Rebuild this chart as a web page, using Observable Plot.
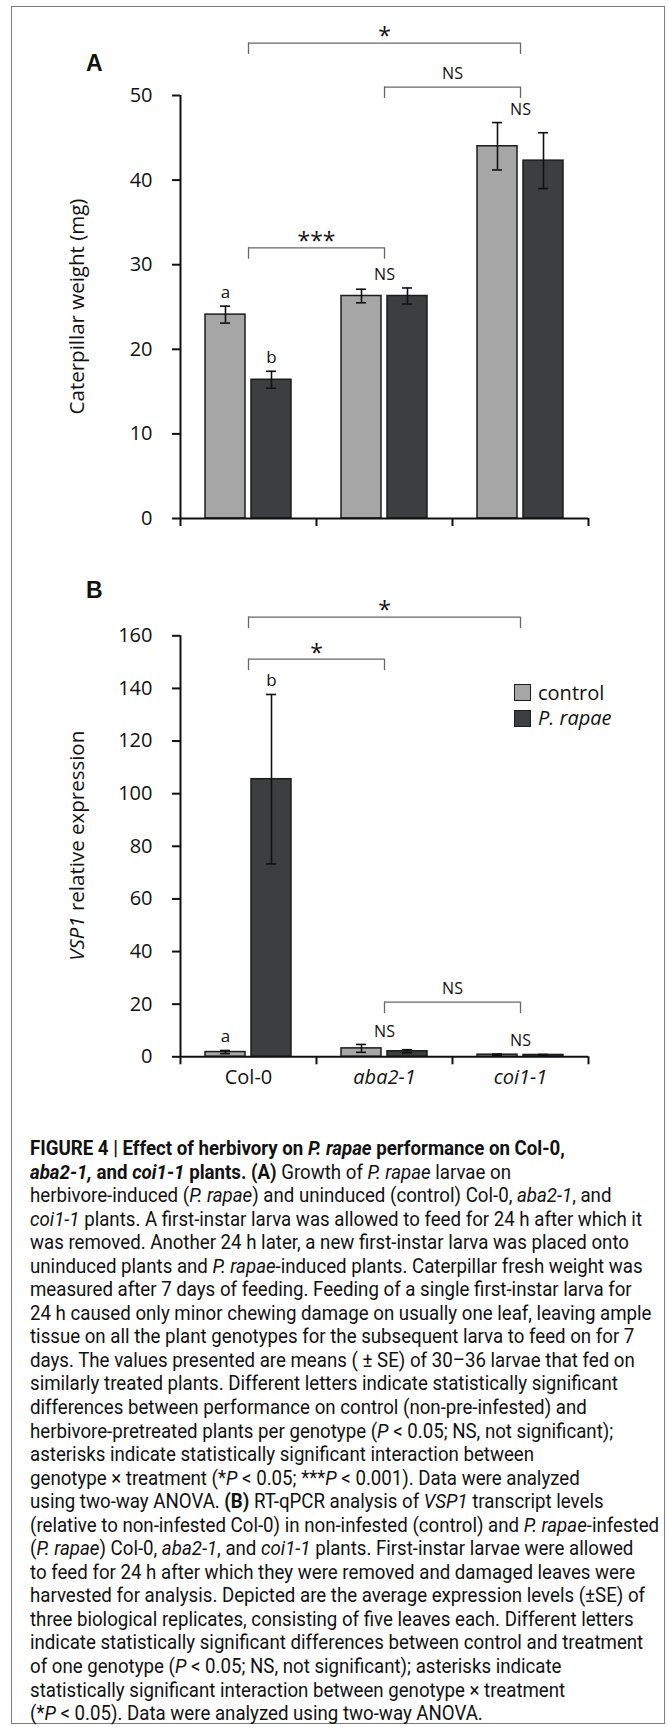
<!DOCTYPE html>
<html><head><meta charset="utf-8">
<script src="https://cdn.jsdelivr.net/npm/d3@7"></script>
<script src="https://cdn.jsdelivr.net/npm/@observablehq/plot@0.6"></script>
<style>
html,body{margin:0;padding:0;background:#fff;}
#page{position:relative;width:668px;height:1727px;overflow:hidden;font-family:"Open Sans",sans-serif;color:#111;}
#frame{position:absolute;left:11px;top:6px;width:652px;height:1716px;border:1.5px solid #7d7d7d;}
.layer{position:absolute;left:0;}
.plabel{position:absolute;font-family:"Liberation Sans",Arial,sans-serif;font-weight:bold;font-size:23px;line-height:23px;}
.leg{position:absolute;font-family:"Open Sans",sans-serif;font-size:20px;line-height:20px;}
.sw{position:absolute;width:15px;height:15px;border:1.3px solid #1c1c1c;}
#caption{position:absolute;left:30px;top:1137px;font-family:"Liberation Sans Narrow","Arial Narrow","Roboto",sans-serif;font-size:20px;color:#111;}
#caption div{white-space:pre;line-height:23.55px;height:23.55px;transform-origin:0 50%;}
</style></head>
<body><div id="page"><div id="frame"></div></div>
<script>
// ---------- data ----------
const genotypes = ["Col-0", "aba2-1", "coi1-1"];
const italicGenotypes = ["aba2-1", "coi1-1"];
const treatments = ["control", "P. rapae"];

// Panel A: caterpillar weight (mg), mean and SE
const weightControl   = [24.1, 26.3, 44.0];
const weightControlSE = [1.0, 0.8, 2.8];
const weightRapae     = [16.4, 26.3, 42.3];
const weightRapaeSE   = [1.0, 0.95, 3.3];
const weightTicks = [0, 10, 20, 30, 40, 50];
const weightBarLetters = [
  {genotype: "Col-0", treatment: "control", text: "a"},
  {genotype: "Col-0", treatment: "P. rapae", text: "b"}
];
const weightGroupLetters = [
  {genotype: "aba2-1", text: "NS"},
  {genotype: "coi1-1", text: "NS"}
];
const weightBrackets = [
  {from: "Col-0", to: "coi1-1", level: 56.2, text: "*"},
  {from: "aba2-1", to: "coi1-1", level: 51.0, text: "NS"},
  {from: "Col-0", to: "aba2-1", level: 32.0, text: "***"}
];

// Panel B: VSP1 relative expression, mean and SE
const vspControl   = [1.8, 3.2, 0.8];
const vspControlSE = [0.6, 1.5, 0.25];
const vspRapae     = [105.5, 2.1, 0.7];
const vspRapaeSE   = [32.2, 0.6, 0.2];
const vspTicks = [0, 20, 40, 60, 80, 100, 120, 140, 160];
const vspBarLetters = [
  {genotype: "Col-0", treatment: "control", text: "a"},
  {genotype: "Col-0", treatment: "P. rapae", text: "b"}
];
const vspGroupLetters = [
  {genotype: "aba2-1", text: "NS"},
  {genotype: "coi1-1", text: "NS"}
];
const vspBrackets = [
  {from: "Col-0", to: "coi1-1", level: 167.1, text: "*"},
  {from: "Col-0", to: "aba2-1", level: 151.1, text: "*"},
  {from: "aba2-1", to: "coi1-1", level: 20.8, text: "NS"}
];

const fillColors = ["#a6a6a6", "#3c3f3f"];

// ---------- helpers ----------
function buildRows(c, cse, r, rse) {
  return genotypes.flatMap((g, i) => [
    {genotype: g, treatment: treatments[0], value: c[i], se: cse[i]},
    {genotype: g, treatment: treatments[1], value: r[i], se: rse[i]}
  ]);
}
const gi = g => genotypes.indexOf(g);
const FONT = '"Open Sans", sans-serif';

function panel(cfg) {
  const {rows, barLetters, groupLetters, brackets, yDomain, yTicks, top, height, marginTop, marginBottom, yLabel, xLabels} = cfg;
  const common = {
    width: 668, height, marginLeft: 180, marginRight: 80, marginTop, marginBottom,
    style: {fontFamily: FONT, fontSize: "20px", background: "transparent", color: "#111", overflow: "visible"}
  };
  const topOf = (g, t) => { const r = rows.find(d => d.genotype === g && d.treatment === t); return r.value + r.se; };
  const barLetterRows = barLetters.map(d => ({...d, y: topOf(d.genotype, d.treatment)}));
  const groupRows = groupLetters.map(d => ({...d, y: Math.max(...treatments.map(t => topOf(d.genotype, t)))}));

  const bars = Plot.plot({
    ...common,
    fx: {domain: genotypes, padding: 0, axis: null},
    x: {domain: treatments, paddingInner: 0.13, paddingOuter: 0.543, axis: null},
    y: {domain: yDomain, axis: null},
    color: {domain: treatments, range: fillColors},
    marks: [
      Plot.barY(rows, {fx: "genotype", x: "treatment", y: "value", fill: "treatment", stroke: "#1c1c1c", strokeWidth: 1.5}),
      Plot.ruleX(rows, {fx: "genotype", x: "treatment", y1: d => d.value - d.se, y2: d => d.value + d.se, stroke: "#111", strokeWidth: 1.6}),
      Plot.tickY(rows, {fx: "genotype", x: "treatment", y: d => d.value + d.se, insetLeft: 15, insetRight: 15, stroke: "#111", strokeWidth: 1.6}),
      Plot.tickY(rows, {fx: "genotype", x: "treatment", y: d => d.value - d.se, insetLeft: 15, insetRight: 15, stroke: "#111", strokeWidth: 1.6}),
      Plot.text(barLetterRows, {fx: "genotype", x: "treatment", y: "y", text: "text", dy: -14, fontSize: 17, fill: "#111"})
    ]
  });

  const n = genotypes.length;
  const bracketEnds = brackets.flatMap(d => [{x: gi(d.from) + 0.5, y: d.level}, {x: gi(d.to) + 0.5, y: d.level}]);
  const xMarks = xLabels ? [
    Plot.text(genotypes.filter(g => !italicGenotypes.includes(g)), {x: g => gi(g) + 0.5, y: yDomain[0], text: d => d, dy: 21, fontSize: 20, fill: "#111"}),
    Plot.text(genotypes.filter(g => italicGenotypes.includes(g)), {x: g => gi(g) + 0.5, y: yDomain[0], text: d => d, dy: 21, fontSize: 20, fontStyle: "italic", fill: "#111"})
  ] : [];
  const over = Plot.plot({
    ...common,
    x: {domain: [0, n], axis: null},
    y: {domain: yDomain, axis: null},
    marks: [
      Plot.ruleY([yDomain[0]], {x1: 0, x2: n, stroke: "#111", strokeWidth: 2}),
      Plot.ruleX([0], {y1: yDomain[0], y2: yDomain[1], stroke: "#111", strokeWidth: 2}),
      Plot.axisY({ticks: yTicks, tickSize: 8, tickPadding: 20, strokeWidth: 2, fontSize: 20, label: null, tickFormat: d3.format("d"), fill: "#111"}),
      Plot.axisX({ticks: d3.range(n + 1), tickSize: 8, tickFormat: () => "", strokeWidth: 2, label: null}),
      Plot.ruleY(brackets, {x1: d => gi(d.from) + 0.5, x2: d => gi(d.to) + 0.5, y: "level", stroke: "#666", strokeWidth: 1.3}),
      Plot.ruleX(bracketEnds, {x: "x", y1: "y", y2: "y", insetBottom: -11.5, stroke: "#666", strokeWidth: 1.3}),
      Plot.text(brackets.filter(d => d.text.startsWith("*")), {x: d => (gi(d.from) + gi(d.to)) / 2 + 0.5, y: "level", text: "text", dy: -6, fontSize: 23, fill: "#111"}),
      Plot.text(brackets.filter(d => !d.text.startsWith("*")), {x: d => (gi(d.from) + gi(d.to)) / 2 + 0.5, y: "level", text: "text", dy: -13, fontSize: 16, fill: "#111"}),
      Plot.text(groupRows, {x: d => gi(d.genotype) + 0.5, y: "y", text: "text", dy: -13, fontSize: 16, fill: "#111"}),
      ...xMarks
    ]
  });

  // y axis title (mixed styles)
  const ys = over.scale("y");
  const yc = ys.apply((yDomain[0] + yDomain[1]) / 2);
  const t = d3.select(over).append("text")
    .attr("transform", `translate(76,${yc}) rotate(-90)`)
    .attr("text-anchor", "middle").attr("dominant-baseline", "central")
    .attr("font-family", FONT).attr("font-size", 20.5).attr("fill", "#111");
  yLabel.forEach(part => t.append("tspan").attr("font-style", part.italic ? "italic" : null).text(part.text));

  for (const el of [bars, over]) {
    el.classList.add("layer");
    el.style.top = top + "px";
    document.getElementById("page").appendChild(el);
  }
}

panel({
  rows: buildRows(weightControl, weightControlSE, weightRapae, weightRapaeSE),
  barLetters: weightBarLetters, groupLetters: weightGroupLetters, brackets: weightBrackets,
  yDomain: [0, 50], yTicks: weightTicks, top: 0, height: 560, marginTop: 95, marginBottom: 42,
  yLabel: [{text: "Caterpillar weight (mg)"}], xLabels: false
});
panel({
  rows: buildRows(vspControl, vspControlSE, vspRapae, vspRapaeSE),
  barLetters: vspBarLetters, groupLetters: vspGroupLetters, brackets: vspBrackets,
  yDomain: [0, 160], yTicks: vspTicks, top: 560, height: 540, marginTop: 75.3, marginBottom: 43.7,
  yLabel: [{text: "VSP1", italic: true}, {text: " relative expression"}], xLabels: true
});

// panel letters + legend
const page = document.getElementById("page");
function addDiv(cls, html, left, top, extra) {
  const d = document.createElement("div"); d.className = cls; d.innerHTML = html;
  d.style.left = left + "px"; d.style.top = top + "px";
  if (extra) Object.assign(d.style, extra);
  page.appendChild(d); return d;
}
addDiv("plabel", "A", 86, 52);
addDiv("plabel", "B", 86, 579);
treatments.forEach((tr, i) => {
  const top = 684 + i * 25.5;
  addDiv("sw", "", 514, top, {background: fillColors[i]});
  addDiv("leg", tr === "control" ? tr : "<i>" + tr + "</i>", 538, top - 1.5);
});

// caption
const captionLines = [
  "<b>FIGURE 4 | Effect of herbivory on <i>P. rapae</i> performance on Col-0,</b>",
  "<b><i>aba2-1,</i> and <i>coi1-1</i> plants. (A)</b> Growth of <i>P. rapae</i> larvae on",
  "herbivore-induced (<i>P. rapae</i>) and uninduced (control) Col-0, <i>aba2-1</i>, and",
  "<i>coi1-1</i> plants. A first-instar larva was allowed to feed for 24 h after which it",
  "was removed. Another 24 h later, a new first-instar larva was placed onto",
  "uninduced plants and <i>P. rapae</i>-induced plants. Caterpillar fresh weight was",
  "measured after 7 days of feeding. Feeding of a single first-instar larva for",
  "24 h caused only minor chewing damage on usually one leaf, leaving ample",
  "tissue on all the plant genotypes for the subsequent larva to feed on for 7",
  "days. The values presented are means ( ± SE) of 30–36 larvae that fed on",
  "similarly treated plants. Different letters indicate statistically significant",
  "differences between performance on control (non-pre-infested) and",
  "herbivore-pretreated plants per genotype (<i>P</i> &lt; 0.05; NS, not significant);",
  "asterisks indicate statistically significant interaction between",
  "genotype × treatment (*<i>P</i> &lt; 0.05; ***<i>P</i> &lt; 0.001). Data were analyzed",
  "using two-way ANOVA. <b>(B)</b> RT-qPCR analysis of <i>VSP1</i> transcript levels",
  "(relative to non-infested Col-0) in non-infested (control) and <i>P. rapae</i>-infested",
  "(<i>P. rapae</i>) Col-0, <i>aba2-1</i>, and <i>coi1-1</i> plants. First-instar larvae were allowed",
  "to feed for 24 h after which they were removed and damaged leaves were",
  "harvested for analysis. Depicted are the average expression levels (±SE) of",
  "three biological replicates, consisting of five leaves each. Different letters",
  "indicate statistically significant differences between control and treatment",
  "of one genotype (<i>P</i> &lt; 0.05; NS, not significant); asterisks indicate",
  "statistically significant interaction between genotype × treatment",
  "(*<i>P</i> &lt; 0.05). Data were analyzed using two-way ANOVA."
];
const cap = document.createElement("div"); cap.id = "caption";
captionLines.forEach(l => { const d = document.createElement("div"); d.innerHTML = l; cap.appendChild(d); });
page.appendChild(cap);
function fitCaption() {
  const ref = cap.children[4];
  ref.style.transform = "none";
  const span = document.createElement("span"); span.innerHTML = ref.innerHTML; span.style.whiteSpace = "pre";
  ref.innerHTML = ""; ref.appendChild(span);
  const w = span.getBoundingClientRect().width;
  ref.innerHTML = span.innerHTML;
  const s = 599 / w;
  for (const d of cap.children) d.style.transform = `scaleX(${s})`;
}
fitCaption();
if (document.fonts && document.fonts.ready) document.fonts.ready.then(fitCaption);
</script>
</body></html>
